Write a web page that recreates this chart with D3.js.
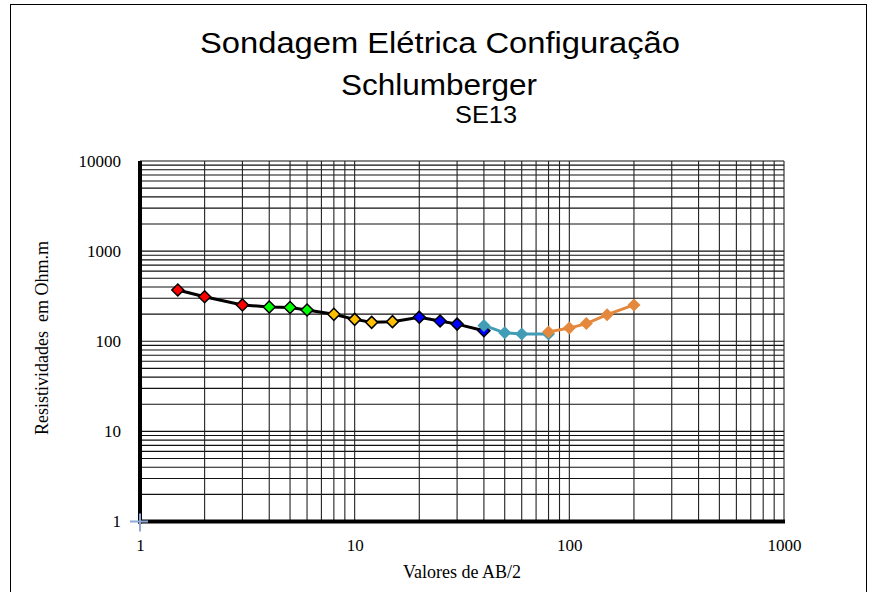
<!DOCTYPE html>
<html><head><meta charset="utf-8">
<script src="https://cdn.jsdelivr.net/npm/d3@7"></script>
<style>html,body{margin:0;padding:0;background:#fff;}svg{display:block;}</style>
</head><body>
<script>
// ---- data ----
const titleLines = ["Sondagem Elétrica Configuração", "Schlumberger", "SE13"];
const xLabel = "Valores de AB/2";
const yLabel = "Resistividades  em Ohm.m";
const xTicks = [1, 10, 100, 1000];
const yTicks = [1, 10, 100, 1000, 10000];

// field curve (black line with segment-coloured markers)
const fieldX = [1.5, 2, 3, 4, 5, 6, 8, 10, 12, 15, 20, 25, 30, 40];
const fieldY = [370, 312, 253, 240, 237, 222, 199, 175, 162, 165, 185, 168, 155, 131];
const fieldMarkerColors = ["#ff0000","#ff0000","#ff0000","#00ff00","#00ff00","#00ff00",
  "#ffc000","#ffc000","#ffc000","#ffc000","#0000ff","#0000ff","#0000ff","#0000ff"];

// second segment (teal)
const tealX = [40, 50, 60, 80];
const tealY = [150, 124, 120, 120];
// third segment (orange)
const orangeX = [80, 100, 120, 150, 200];
const orangeY = [127, 140, 157, 197, 253];
// origin marker
const originX = [1];
const originY = [1];

const W = 870, H = 592;
const svg = d3.select("body").append("svg").attr("width", W).attr("height", H);

svg.append("rect").attr("x", 10.5).attr("y", 4.5).attr("width", 856).attr("height", 600)
  .attr("fill", "#fff").attr("stroke", "#000").attr("stroke-width", 1);

const x = d3.scaleLog().domain([1, 1000]).range([140, 784]);
const y = d3.scaleLog().domain([1, 10000]).range([521.5, 161]);

// grid
const xGrid = [];
for (let d = 1; d < 1000; d *= 10) for (let k = 1; k <= 9; k++) xGrid.push(d * k);
xGrid.push(1000);
const yGrid = [];
for (let d = 1; d < 10000; d *= 10) for (let k = 1; k <= 9; k++) yGrid.push(d * k);
yGrid.push(10000);

const g = svg.append("g");
g.selectAll(".hg").data(yGrid).enter().append("line")
  .attr("x1", x(1)).attr("x2", x(1000))
  .attr("y1", d => y(d)).attr("y2", d => y(d))
  .attr("stroke", "#111").attr("stroke-width", 1.1);
g.selectAll(".vg").data(xGrid).enter().append("line")
  .attr("y1", y(1)).attr("y2", y(10000))
  .attr("x1", d => x(d)).attr("x2", d => x(d))
  .attr("stroke", "#222").attr("stroke-width", 1.1);

// axes
const xAxis = d3.axisBottom(x).tickValues(xTicks).tickFormat(d3.format("d")).tickSize(0).tickPadding(17);
const yAxis = d3.axisLeft(y).tickValues(yTicks).tickFormat(d3.format("d")).tickSize(0).tickPadding(19);
const gx = svg.append("g").attr("transform", `translate(0,${y(1)})`).call(xAxis);
const gy = svg.append("g").attr("transform", `translate(${x(1)},0)`).call(yAxis);
[gx, gy].forEach(a => {
  a.select(".domain").remove();
  a.selectAll("text").attr("font-family", "Liberation Serif, Times New Roman, serif")
    .attr("font-size", 17).attr("fill", "#000");
});
svg.append("line").attr("x1", x(1)).attr("x2", x(1)).attr("y1", y(10000)).attr("y2", y(1) + 2)
  .attr("stroke", "#000").attr("stroke-width", 4);
svg.append("line").attr("x1", x(1) - 2).attr("x2", x(1000) + 1).attr("y1", y(1)).attr("y2", y(1))
  .attr("stroke", "#000").attr("stroke-width", 4);

// axis titles
svg.append("text").attr("x", 462).attr("y", 578).attr("text-anchor", "middle")
  .attr("font-family", "Liberation Serif, Times New Roman, serif").attr("font-size", 18).text(xLabel);
svg.append("text").attr("transform", "translate(48,338) rotate(-90)").attr("text-anchor", "middle")
  .attr("font-family", "Liberation Serif, Times New Roman, serif").attr("font-size", 18)
  .attr("xml:space", "preserve").style("white-space", "pre").text(yLabel);

// titles
const tf = "Liberation Sans, Arial, sans-serif";
svg.append("text").attr("x", 200).attr("y", 53).attr("font-family", tf).attr("font-size", 29)
  .attr("textLength", 480).attr("lengthAdjust", "spacingAndGlyphs").text(titleLines[0]);
svg.append("text").attr("x", 341).attr("y", 95).attr("font-family", tf).attr("font-size", 29)
  .attr("textLength", 196).attr("lengthAdjust", "spacingAndGlyphs").text(titleLines[1]);
svg.append("text").attr("x", 455).attr("y", 123).attr("font-family", tf).attr("font-size", 24)
  .attr("textLength", 62).attr("lengthAdjust", "spacingAndGlyphs").text(titleLines[2]);

// series
const diamond = (s) => `M0,${-s}L${s},0L0,${s}L${-s},0Z`;
const line = d3.line().x(d => x(d[0])).y(d => y(d[1]));

const field = fieldX.map((v, i) => [v, fieldY[i], fieldMarkerColors[i]]);
const teal = tealX.map((v, i) => [v, tealY[i]]);
const orange = orangeX.map((v, i) => [v, orangeY[i]]);

svg.append("path").attr("d", line(field)).attr("fill", "none").attr("stroke", "#000").attr("stroke-width", 3);
svg.selectAll(".fm").data(field).enter().append("path")
  .attr("transform", d => `translate(${x(d[0])},${y(d[1])})`)
  .attr("d", diamond(6)).attr("fill", d => d[2]).attr("stroke", "#000").attr("stroke-width", 1.5);

svg.append("path").attr("d", line(teal)).attr("fill", "none").attr("stroke", "#419cb5").attr("stroke-width", 3);
svg.selectAll(".tm").data(teal).enter().append("path")
  .attr("transform", d => `translate(${x(d[0])},${y(d[1])})`)
  .attr("d", diamond(6.5)).attr("fill", "#419cb5");

svg.append("path").attr("d", line(orange)).attr("fill", "none").attr("stroke", "#e3883c").attr("stroke-width", 3);
svg.selectAll(".om").data(orange).enter().append("path")
  .attr("transform", d => `translate(${x(d[0])},${y(d[1])})`)
  .attr("d", diamond(6.5)).attr("fill", "#e3883c");

// origin cross marker
const origin = originX.map((v, i) => [v, originY[i]]);
svg.selectAll(".om0").data(origin).enter().append("path")
  .attr("transform", d => `translate(${x(d[0])},${y(d[1])})`)
  .attr("d", "M-10,0H8M0,-8V10").attr("stroke", "#8ea9d6").attr("stroke-width", 2).attr("fill", "none");
</script>
</body></html>
